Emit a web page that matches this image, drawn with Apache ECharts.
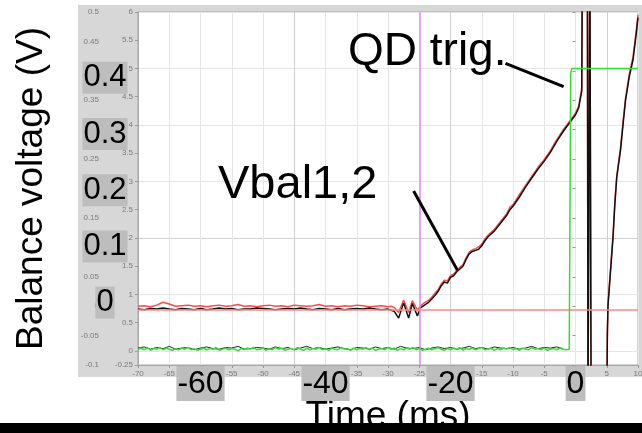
<!DOCTYPE html>
<html><head><meta charset="utf-8">
<script src="https://cdn.jsdelivr.net/npm/echarts@6/dist/echarts.min.js"></script>
<style>
html,body{margin:0;padding:0;background:#fff;}
#wrap{position:relative;width:642px;height:433px;overflow:hidden;}
#panel{position:absolute;left:78px;top:5px;width:564px;height:372px;background:#d7d7d7;}
#bar{position:absolute;left:0;top:423px;width:642px;height:10px;background:#000;}
#chart{position:absolute;left:0;top:0;width:642px;height:433px;}
</style></head><body>
<div id="wrap"><div id="panel"></div><div id="bar"></div><div id="chart"></div></div>
<script>
// ---- tick labels ----
const xTickVals = [-70,-65,-60,-55,-50,-45,-40,-35,-30,-25,-20,-15,-10,-5,0,5,10];
const yTickVals = [-0.25,0,0.5,1,1.5,2,2.5,3,3.5,4,4.5,5,5.5,6];
const bigXLabels = [-60,-40,-20,0];
const bigYLabels = [0,0.1,0.2,0.3,0.4];

// ---- Vbal1 (black) and Vbal2 (red), time in ms, value on raw axis ----
const vbalTime = [-70,-69,-68,-67,-66,-65,-64,-63,-62,-61,-60,-59,-58,-57,-56,-55,-54,-53,-52,-51,-50,-49,-48,-47,-46,-45,-44,-43,-42,-41,-40,-39,-38,-37,-36,-35,-34,-33,-32,-31,-30,
 -29.5,-29,-28.3,-27.5,-26.7,-26.1,-25.3,-24.8,-24.3,-23.5,-23,-22.5,-22,-21.5,-21,-20.5,-20,-19.5,-19,-18.5,-18,-17.5,-17,-16.5,-16,-15.5,-15,-14.5,-14,-13,-12,-11,-10.5,-10,-9,-8,-7,-6,-5,-4,-3,-2,-1,0,0.5,1.0,1.1,1.9,2.0,2.2,2.3,2.4,2.5,5.0,5.1,5.2,5.6,6.0,6.3,6.6,7.2,7.6,8.0,8.6,9.2,9.7,10];
const vbal1Vals = [0.74,0.73,0.75,0.74,0.76,0.74,0.73,0.75,0.74,0.73,0.75,0.73,0.74,0.76,0.74,0.75,0.73,0.74,0.74,0.76,0.75,0.74,0.73,0.74,0.75,0.74,0.76,0.74,0.73,0.75,0.74,0.73,0.75,0.73,0.74,0.75,0.74,0.76,0.74,0.73,0.74,
 0.72,0.70,0.58,0.85,0.58,0.84,0.62,0.76,0.80,0.86,0.92,0.98,1.05,1.15,1.22,1.20,1.30,1.33,1.40,1.45,1.50,1.62,1.72,1.76,1.78,1.80,1.86,1.95,2.02,2.12,2.26,2.40,2.50,2.56,2.72,2.90,3.06,3.22,3.36,3.52,3.71,3.88,4.03,4.18,4.30,4.6,7,7,-1,-1,7,7,-1,-1,0.3,0.8,1.4,2.0,2.6,3.07,3.55,4.0,4.43,4.85,5.15,5.6,5.9];
const vbal2Vals = [0.79,0.80,0.78,0.81,0.86,0.83,0.79,0.80,0.81,0.79,0.80,0.78,0.80,0.81,0.79,0.80,0.82,0.79,0.80,0.78,0.80,0.81,0.79,0.80,0.78,0.81,0.80,0.79,0.80,0.82,0.79,0.80,0.78,0.80,0.79,0.81,0.80,0.78,0.79,0.80,0.78,
 0.79,0.77,0.68,0.90,0.68,0.89,0.72,0.80,0.84,0.90,0.95,1.02,1.08,1.18,1.25,1.24,1.33,1.36,1.43,1.48,1.53,1.65,1.75,1.79,1.81,1.84,1.89,1.98,2.05,2.15,2.29,2.43,2.54,2.59,2.76,2.93,3.09,3.25,3.39,3.55,3.74,3.91,4.06,4.21,4.33,4.65,7,7,-1,-1,7,7,-1,-1,0.35,0.85,1.45,2.05,2.65,3.1,3.6,4.05,4.47,4.9,5.2,5.65,5.95];

// ---- QD trigger (green): noise every 0.5 ms from -70 ms, then step ----
const greenNoiseStart = -70, greenNoiseStep = 0.5;
const greenNoiseVals = [0.03,0.05,0.02,0.06,0.01,0.04,0.03,0.06,0.02,0.05,0.03,0.01,0.04,0.02,0.05,0.03,0.06,0.02,0.04,0.01,
 0.03,0.05,0.02,0.04,0.03,0.06,0.01,0.03,0.05,0.02,0.04,0.03,0.00,0.04,0.02,0.05,0.03,0.06,0.02,0.03,
 0.05,0.01,0.04,0.02,0.06,0.03,0.05,0.01,0.03,0.04,0.02,0.06,0.03,0.01,0.05,0.02,0.04,0.03,0.06,0.02,
 0.04,0.01,0.05,0.03,0.02,0.06,0.03,0.04,0.01,0.05,0.02,0.04,0.03,0.06,0.02,0.05,0.01,0.03,0.04,0.02,
 0.06,0.03,0.05,0.01,0.04,0.02,0.05,0.03,0.06,0.02,0.04,0.01,0.03,0.05,0.02,0.04,0.06,0.03,0.01,0.04,
 0.02,0.05,0.03,0.06,0.01,0.04,0.03,0.05,0.02,0.04,0.06,0.02,0.03,0.05,0.01,0.04,0.02,0.05,0.03,0.06,
 0.02,0.04,0.01,0.05,0.03,0.02,0.06,0.03,0.04,0.02,0.05,0.01,0.03,0.04,0.02,0.05,0.03,0.02,0.03];
const greenStepTime = [-0.8,-0.77,-0.6,10];
const greenStepVals = [0.03,4.9,5.0,5.0];

// ---- black noise near zero, every 1 ms from -70 ms ----
const blackNoiseStart = -70, blackNoiseStep = 1;
const blackNoiseVals = [0.05,0.07,0.03,0.06,0.04,0.08,0.03,0.05,0.06,0.02,0.05,0.07,0.04,0.03,0.06,0.05,0.08,0.03,0.04,0.06,
 0.05,0.03,0.07,0.04,0.06,0.02,0.05,0.08,0.04,0.06,0.03,0.05,0.07,0.04,0.02,0.06,0.05,0.03,0.07,0.04,
 0.06,0.03,0.08,0.05,0.04,0.06,0.02,0.05,0.07,0.04,0.06,0.03,0.05,0.08,0.04,0.06,0.03,0.07,0.05,0.04,
 0.06,0.03,0.05,0.08,0.04,0.06,0.05,0.07,0.04];

// ---- reference lines / annotations (data coordinates) ----
const cursorTime = -25;
const thresholdLevel = 0.72;
const qdLeader = [[-11.2, 5.09], [-1.9, 4.68]];
const vbalLeader = [[-25.9, 2.83], [-18.9, 1.43]];

function zip(t, v) { return t.map((x, i) => [x, v[i]]); }
function grid(start, step, v) { return v.map((y, i) => [start + i * step, y]); }

const FONT = '"Liberation Sans", Arial, sans-serif';
const clear = 'rgba(0,0,0,0)';
const yGridColors = [clear,'#e6e6e6',clear,'#e6e6e6',clear,'#cfcfcf',clear,'#e6e6e6',clear,'#e6e6e6'];
const xGridColors = ['#cfcfcf','#e6e6e6','#e6e6e6','#e6e6e6','#e6e6e6'];

const chart = echarts.init(document.getElementById('chart'), null, {renderer: 'canvas'});
chart.setOption({
  animation: false,
  backgroundColor: 'transparent',
  textStyle: {fontFamily: FONT},
  grid: {left: 138, right: 4, top: 12, bottom: 68, show: true, backgroundColor: '#fff',
         borderColor: '#a8a8a8', borderWidth: 1, containLabel: false, outerBoundsMode: 'none'},
  xAxis: [
    {type: 'value', position: 'bottom', min: -70, max: 10, interval: 1,
     axisLine: {show: true, onZero: false, lineStyle: {color: '#a8a8a8'}},
     axisTick: {show: true, length: 3, customValues: xTickVals, lineStyle: {color: '#999'}},
     axisLabel: {customValues: xTickVals, fontSize: 8, color: '#7a7a7a', margin: 5},
     splitLine: {show: true, lineStyle: {color: xGridColors, width: 1}},
     name: 'Time (ms)', nameLocation: 'middle', nameGap: 33,
     nameTextStyle: {fontSize: 37, color: '#000', fontFamily: FONT}},
    {type: 'value', position: 'bottom', offset: 0, min: -70, max: 10, z: 10,
     axisLine: {show: false}, axisTick: {show: false}, splitLine: {show: false},
     axisLabel: {customValues: bigXLabels, fontSize: 32, color: '#000', backgroundColor: '#bdbdbd',
                 padding: [2, 1, 1, 1], margin: 1}}
  ],
  yAxis: [
    {type: 'value', position: 'left', offset: 0, min: -0.25, max: 6, interval: 0.05,
     axisLine: {show: true, onZero: false, lineStyle: {color: '#a8a8a8'}},
     axisTick: {show: true, length: 3, customValues: yTickVals, lineStyle: {color: '#999'}},
     axisLabel: {customValues: yTickVals, fontSize: 8, color: '#7a7a7a', margin: 5},
     splitLine: {show: true, lineStyle: {color: yGridColors, width: 1}}},
    {type: 'value', position: 'left', offset: 34, min: -0.1, max: 0.5, interval: 0.05,
     axisLine: {show: false}, axisTick: {show: true, length: 3, lineStyle: {color: '#999'}},
     axisLabel: {fontSize: 8, color: '#7a7a7a', margin: 5}, splitLine: {show: false},
     name: 'Balance voltage (V)', nameLocation: 'middle', nameRotate: 90, nameGap: 54,
     nameTextStyle: {fontSize: 37, color: '#000', fontFamily: FONT}},
    {type: 'value', position: 'left', offset: 0, min: -0.111, max: 0.517, z: 10,
     axisLine: {show: false}, axisTick: {show: false}, splitLine: {show: false},
     axisLabel: {customValues: bigYLabels, fontSize: 31, color: '#000', backgroundColor: '#bdbdbd',
                 padding: [1, 1, 0, 1], align: 'center', margin: 33}}
  ],
  series: [
    {type: 'line', name: 'Vbal2', data: zip(vbalTime, vbal2Vals), showSymbol: false, symbol: 'none',
     lineStyle: {color: '#ff4a4a', width: 1.5}, z: 2, clip: true,
     markLine: {silent: true, symbol: 'none', label: {show: false},
       data: [
         {xAxis: cursorTime, lineStyle: {color: '#e08af2', width: 1.5, type: 'solid'}},
         {yAxis: thresholdLevel, lineStyle: {color: '#f28c8c', width: 1.5, type: 'solid'}}
       ]}},
    {type: 'line', name: 'noise', data: grid(blackNoiseStart, blackNoiseStep, blackNoiseVals), symbol: 'none',
     lineStyle: {color: '#222', width: 1}, z: 3, clip: true},
    {type: 'line', name: 'Vbal1', data: zip(vbalTime, vbal1Vals), symbol: 'none',
     lineStyle: {color: '#111', width: 1.5}, z: 4, clip: true,
     markLine: {silent: true, symbol: 'none', label: {show: false},
       lineStyle: {color: '#000', width: 3, type: 'solid'},
       data: [
         [{coord: qdLeader[0]}, {coord: qdLeader[1]}],
         [{coord: vbalLeader[0]}, {coord: vbalLeader[1]}]
       ]}},
    {type: 'line', name: 'QD', data: grid(greenNoiseStart, greenNoiseStep, greenNoiseVals).concat(zip(greenStepTime, greenStepVals)),
     symbol: 'none', lineStyle: {color: '#2fe02f', width: 1.5}, z: 5, clip: true}
  ],
  graphic: [
    {type: 'text', z: 100, style: {text: 'QD trig.', x: 348, y: 29, font: '46px ' + FONT, fill: '#000', verticalAlign: 'top'}},
    {type: 'text', z: 100, style: {text: 'Vbal1,2', x: 218, y: 162, font: '47px ' + FONT, fill: '#000', verticalAlign: 'top'}}
  ]
});
</script>
</body></html>
